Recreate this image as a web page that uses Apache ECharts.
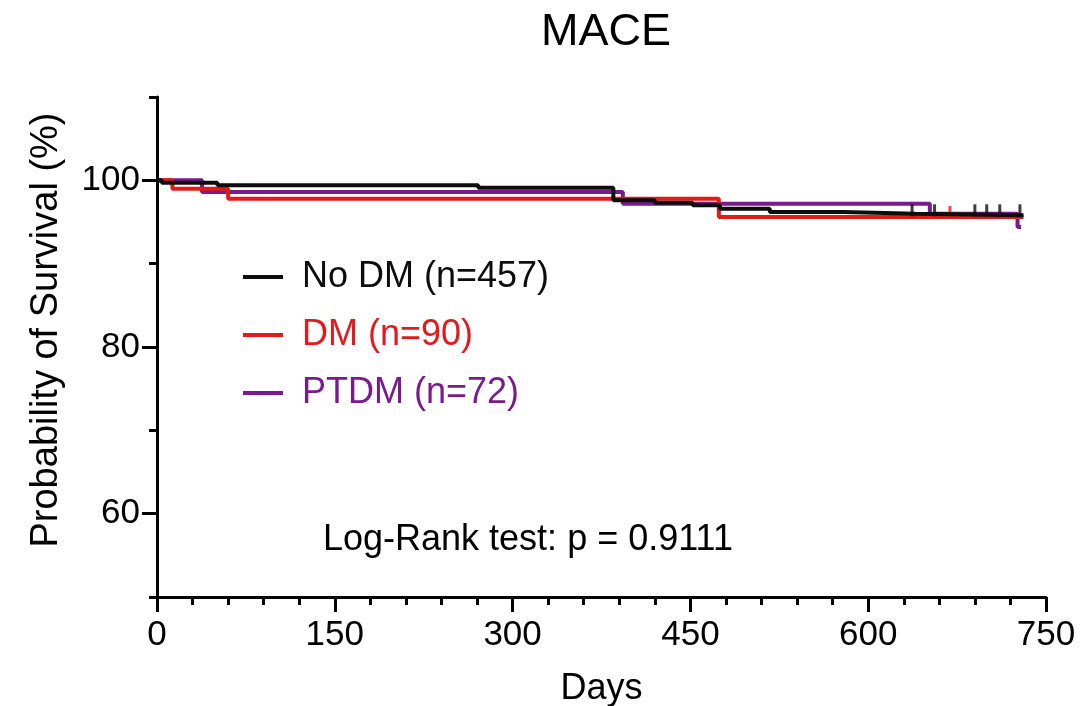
<!DOCTYPE html>
<html>
<head>
<meta charset="utf-8">
<title>MACE</title>
<script src="https://cdn.jsdelivr.net/npm/echarts@6/dist/echarts.min.js"></script>
<style>
    html, body { margin: 0; padding: 0; background: #fff; }
    #chart { width: 1082px; height: 706px; }
</style>
</head>
<body>
<div id="chart"></div>
<script>
// Kaplan-Meier steps: [day, survival %]
const noDm = [[0, 100], [4, 99.7], [51, 99.4], [271, 99.1], [385, 97.6], [420, 97.3], [452, 97.0], [475, 96.6], [517, 96.2], [579, 96.0], [640, 95.8], [731, 95.8]];
const dm = [[0, 100], [13, 99.0], [60, 97.8], [474, 95.6], [731, 95.6]];
const ptdm = [[0, 100], [38, 98.6], [393, 97.2], [652, 96.0], [726, 94.4], [729, 94.4]];

// censored observations
const noDmCensor = [[637, 95.8], [656, 95.8], [690, 95.8], [700, 95.8], [711, 95.8], [728, 95.8]];
const dmCensor = [[669, 95.6]];

const xTicks = [0, 150, 300, 450, 600, 750];
const yLabels = [60, 80, 100];

const names = ['No DM (n=457)', 'DM (n=90)', 'PTDM (n=72)'];
const colors = ['#0d0d0d', '#e31a1c', '#7a1a8c'];

const font = 'Liberation Sans, Arial, Helvetica, sans-serif';

const chart = echarts.init(document.getElementById('chart'));

const stepLine = (name, data, color, z) => ({
    name: name,
    type: 'line',
    step: 'end',
    data: data,
    symbol: 'none',
    z: z,
    lineStyle: { color: color, width: 4 },
    itemStyle: { color: color }
});

const censor = (data, color, z) => ({
    type: 'scatter',
    data: data,
    symbol: 'rect',
    symbolSize: [3, 12],
    symbolOffset: [0, -5],
    z: z,
    itemStyle: { color: color }
});

const option = {
    animation: false,
    title: {
        text: 'MACE',
        left: 601,
        top: 5,
        textAlign: 'center',
        textStyle: { fontFamily: font, fontSize: 45, fontWeight: 'normal', color: '#000' }
    },
    grid: { left: 157, right: 36, top: 97, bottom: 109, outerBoundsMode: 'none' },
    legend: {
        orient: 'vertical',
        left: 243,
        top: 257,
        padding: 0,
        itemWidth: 40,
        itemHeight: 4,
        itemGap: 18,
        icon: 'rect',
        selectedMode: false,
        data: names.map((n, i) => ({ name: n, textStyle: { color: colors[i] } })),
        textStyle: { fontFamily: font, fontSize: 36, lineHeight: 40, padding: [0, 0, 0, 14] }
    },
    xAxis: {
        type: 'value',
        min: 0,
        max: 750,
        interval: 150,
        name: 'Days',
        nameLocation: 'middle',
        nameGap: 74,
        nameTextStyle: { fontFamily: font, fontSize: 36, color: '#000' },
        axisLine: { lineStyle: { color: '#000', width: 3 } },
        axisTick: { length: 15, lineStyle: { color: '#000', width: 3 } },
        minorTick: { show: true, splitNumber: 5, length: 8, lineStyle: { color: '#000', width: 3 } },
        axisLabel: {
            margin: 21,
            fontFamily: font, fontSize: 35, color: '#000',
            customValues: xTicks
        },
        splitLine: { show: false }
    },
    yAxis: [
        {
            type: 'value',
            min: 50,
            max: 110,
            axisLine: { show: true, lineStyle: { color: '#000', width: 3 } },
            axisTick: { show: true, length: 15, customValues: yLabels, lineStyle: { color: '#000', width: 3 } },
            axisLabel: { margin: 17, fontFamily: font, fontSize: 35, color: '#000', customValues: yLabels },
            splitLine: { show: false }
        },
        {
            type: 'value',
            min: 50,
            max: 110,
            interval: 20,
            position: 'left',
            axisLine: { show: false },
            axisTick: { show: true, length: 8, lineStyle: { color: '#000', width: 3 } },
            axisLabel: { show: false },
            splitLine: { show: false }
        }
    ],
    graphic: [
        {
            type: 'text',
            x: 47,
            y: 330,
            rotation: Math.PI / 2,
            style: {
                text: 'Probability of Survival (%)',
                fontFamily: font, fontSize: 38, fill: '#000',
                textAlign: 'center', textVerticalAlign: 'middle'
            }
        },
        {
            type: 'text',
            x: 323,
            y: 540,
            style: {
                text: 'Log-Rank test: p = 0.9111',
                fontFamily: font, fontSize: 36, fill: '#000',
                textAlign: 'left', textVerticalAlign: 'middle'
            }
        }
    ],
    series: [
        stepLine(names[2], ptdm, colors[2], 2),
        stepLine(names[1], dm, colors[1], 3),
        stepLine(names[0], noDm, colors[0], 4),
        censor(dmCensor, colors[1], 3),
        censor(noDmCensor, colors[0], 4)
    ]
};

chart.setOption(option);
</script>
</body>
</html>
